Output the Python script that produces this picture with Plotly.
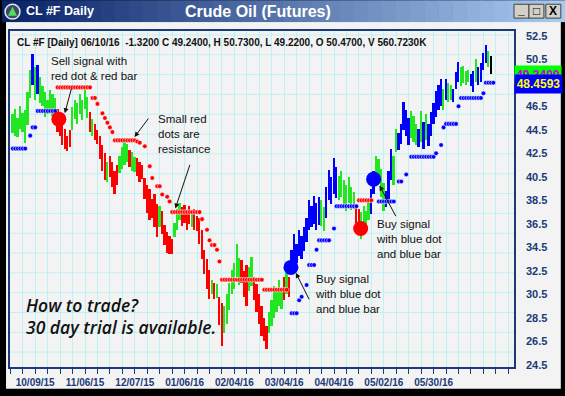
import plotly.graph_objects as go

# ---------------- data ----------------
bar_x = list(range(1, 194))
highs = [
    45.8, 46.3, 45.5, 46.5, 45.9, 46.2, 47.7, 49.6, 50.9, 49.8,
    50.0, 49.0, 48.2, 47.7, 47.0, 47.9, 47.5, 47.2, 46.3, 45.8,
    45.2, 44.6, 44.0, 44.5, 46.4, 47.0, 46.8, 47.5, 47.0, 48.2,
    47.3, 46.0, 45.4, 45.0, 44.5, 44.0, 43.2, 42.5, 41.8, 42.3,
    41.8, 41.0, 41.5, 42.3, 43.0, 43.5, 43.3, 42.8, 42.6, 42.2,
    42.1, 41.8, 41.5, 40.4, 39.8, 39.5, 38.6, 39.0, 38.2, 38.0,
    37.6, 36.4, 35.8, 35.5, 35.2, 36.6, 37.8, 38.3, 37.9, 38.1,
    37.7, 38.0, 37.6, 37.8, 37.2, 37.0, 36.0, 34.3, 33.5, 32.6,
    31.7, 31.5, 31.4, 30.3, 29.8, 29.5, 30.5, 31.5, 32.6, 33.2,
    34.8, 33.6, 33.4, 32.5, 33.0, 32.8, 33.7, 32.0, 31.4, 30.5,
    29.5, 28.5, 27.8, 29.0, 30.0, 31.2, 30.8, 31.7, 31.0, 32.0,
    32.3, 32.0, 34.3, 35.6, 34.8, 36.0, 35.5, 36.2, 37.0, 38.5,
    38.0, 38.9, 38.3, 38.8, 38.5, 37.9, 39.6, 41.1, 40.5, 42.1,
    41.3, 40.6, 41.0, 40.2, 39.8, 40.5, 39.6, 39.2, 38.1, 37.8,
    37.5, 38.0, 37.6, 38.6, 39.5, 41.0, 42.3, 42.0, 41.2, 40.0,
    39.3, 41.0, 42.9, 42.3, 44.6, 44.2, 45.0, 46.9, 46.2, 45.5,
    46.1, 45.7, 45.0, 44.6, 46.1, 45.2, 45.8, 45.0, 46.0, 46.8,
    47.8, 48.3, 48.8, 48.0, 48.8, 48.5, 48.3, 48.0, 49.4, 50.3,
    49.8, 49.9, 49.5, 49.6, 49.2, 49.5, 50.5, 49.8, 50.2, 51.0,
    51.7, 51.2, 50.73,
]
lows = [
    44.2, 44.0, 43.9, 44.6, 44.3, 43.4, 44.9, 47.2, 48.3, 47.0,
    47.5, 46.8, 46.5, 45.6, 45.8, 46.2, 45.7, 45.3, 44.3, 44.0,
    43.2, 42.9, 42.7, 43.0, 44.5, 45.4, 45.0, 45.8, 45.3, 46.3,
    45.5, 44.3, 44.0, 43.6, 43.3, 42.0, 41.0, 40.2, 40.1, 40.5,
    39.6, 39.0, 39.8, 40.8, 41.2, 41.5, 41.8, 41.3, 41.0, 40.9,
    40.6, 40.1, 40.3, 38.6, 37.4, 36.8, 37.0, 36.2, 35.4, 36.2,
    35.6, 34.7, 34.0, 33.9, 33.9, 35.4, 36.0, 36.8, 36.3, 36.6,
    36.0, 36.5, 36.2, 36.0, 35.9, 34.8, 33.5, 32.2, 31.0, 30.1,
    30.5, 30.1, 30.2, 27.9, 26.1, 27.2, 28.0, 29.2, 30.5, 31.0,
    32.0, 31.3, 31.5, 30.3, 29.5, 30.8, 31.2, 30.0, 29.0, 28.0,
    27.0, 26.5, 25.9, 27.2, 27.8, 28.5, 29.0, 29.5, 29.3, 30.0,
    30.5, 30.3, 32.3, 33.0, 33.2, 33.8, 33.5, 34.2, 35.0, 36.0,
    36.2, 36.5, 36.0, 36.4, 36.3, 35.9, 37.0, 38.5, 38.2, 39.0,
    38.7, 38.5, 38.8, 37.9, 37.6, 38.3, 37.7, 37.8, 36.6, 35.8,
    35.2, 36.4, 36.0, 36.8, 37.3, 39.0, 40.2, 40.0, 38.8, 37.6,
    37.9, 38.5, 40.2, 39.8, 42.6, 42.8, 43.3, 44.5, 44.0, 43.2,
    43.8, 43.5, 43.2, 43.0, 43.5, 42.9, 43.6, 43.1, 44.0, 45.0,
    45.6, 46.2, 46.5, 46.2, 47.0, 46.9, 47.0, 46.9, 48.0, 48.6,
    48.2, 48.5, 48.3, 48.6, 48.2, 47.7, 48.6, 48.3, 48.6, 49.6,
    50.2, 49.8, 49.22,
]
bar_colors = list(
    "GGGGGGGGBGBGGGGGGGRRRRRRGGGGGGGRGRRRRRGRRRRGGGGRGGRRRRRRRRRG"
    "RRRRRGGGRRRRGRRRRRRRGRGRRGGGGGGGRRRGGRRRRRRGGGGGGRGRBBBBBBBB"
    "BBBBGGBBBBBGGGGGGGRRGGGGBBGGGGBBBGGBBBBBGGGBGBGBBBBBBGBGGBBBG"
    "GGGBBGBBBBG"
)

blue_dot_x = [1, 2, 3, 4, 5, 6, 8, 9, 10, 11, 12, 13, 14, 15, 16, 17, 18,
              113, 114, 115, 116, 117, 119, 120, 121, 122, 123,
              124, 125, 126, 127, 128, 130,
              131, 132, 133, 134, 135, 136, 137, 138, 139,
              148, 149, 150, 151, 152, 153, 154, 156, 157, 159,
              161, 162, 163, 164, 165, 166, 167, 168, 169, 170, 171, 173, 174,
              175, 176, 177, 178, 179, 180,
              181, 182, 183, 184, 185, 186, 187, 188, 189, 190,
              191, 192, 193, 194]
blue_dot_y = [42.9, 42.9, 42.9, 42.9, 42.9, 42.9, 44.0, 44.7, 44.7,
              46.1, 46.1, 46.1, 46.1, 46.1, 46.1, 46.1, 46.1,
              28.9, 28.9, 28.9, 30.0, 30.3, 31.3, 33.0, 33.0, 33.0, 34.3,
              35.1, 35.1, 35.1, 35.1, 35.1, 36.1,
              38.0, 38.0, 38.0, 38.0, 38.0, 38.0, 38.0, 38.0, 38.0,
              38.4, 38.4, 38.4, 38.4, 38.4, 38.4, 38.4, 40.1, 40.1, 40.7,
              42.2, 42.2, 42.2, 42.2, 42.2, 42.2, 42.2, 42.2, 42.2, 42.2,
              42.5, 43.2, 44.7,
              45.0, 45.0, 45.0, 45.0, 45.0, 46.5,
              47.2, 47.2, 47.2, 47.2, 47.2, 47.2, 47.2, 47.2, 47.2, 47.6,
              48.5, 48.5, 48.5, 48.5]

red_dot_x = [19, 20, 21, 22, 23, 24, 25, 26, 27, 28, 29, 30, 31, 32,
             33, 34, 35, 37, 38, 39, 40, 41,
             42, 43, 44, 45, 46, 47, 48, 49, 50,
             51, 52, 54, 56, 57, 59, 60, 61, 63, 64,
             65, 66, 67, 68, 69, 70, 71, 72, 73, 74, 75, 76,
             77, 79, 80, 81, 82, 83, 84,
             85, 86, 87, 88, 89, 90, 91, 92, 93, 94, 95, 96, 97, 98, 99, 100, 101,
             102, 103, 104, 105, 106, 107, 108, 109, 110, 111,
             140, 141, 142, 143, 144, 145]
red_dot_y = [48.1, 48.1, 48.1, 48.1, 48.1, 48.1, 48.1, 48.1, 48.1, 48.1, 48.1, 48.1, 48.1, 48.1,
             47.2, 47.2, 46.7, 45.9, 45.5, 45.1, 44.7, 44.3,
             43.6, 43.6, 43.6, 43.6, 43.6, 43.6, 43.6, 43.6, 43.6,
             43.5, 43.4, 43.1, 41.4, 40.4, 39.7, 39.7, 39.0, 38.8, 38.4,
             37.5, 37.5, 37.5, 37.5, 37.5, 37.5, 37.5, 37.5, 37.5, 37.5, 37.5, 37.5,
             36.9, 36.0, 35.1, 34.7, 34.7, 34.3, 33.3,
             31.75, 31.75, 31.75, 31.75, 31.75, 31.75, 31.75, 31.75, 31.75, 31.75,
             31.75, 31.75, 31.75, 31.75, 31.75, 31.75, 31.75,
             30.9, 30.9, 30.9, 30.9, 30.9, 30.9, 30.9, 30.9, 30.9, 30.9,
             38.5, 38.5, 38.5, 38.5, 38.5, 38.5]

sell_x = [19.5, 140.7]
sell_y = [45.4, 36.1]
buy_x = [112.7, 145.9]
buy_y = [32.8, 40.3]

date_ticks = [10, 30, 50, 70, 90, 110, 130, 150, 170]
date_labels = ["10/09/15", "11/06/15", "12/07/15", "01/06/16", "02/04/16",
               "03/04/16", "04/04/16", "05/02/16", "05/30/16"]
price_ticks = [24.5, 26.5, 28.5, 30.5, 32.5, 34.5, 36.5, 38.5, 40.5,
               42.5, 44.5, 46.5, 48.5, 50.5, 52.5]

# ---------------- layout helpers ----------------
W, H = 565, 396
L, R, T, B = 8, 514, 31, 370
NAVY = "#1c3a78"
GRID = "#bdf2f2"
FONT = "Arial, Liberation Sans, sans-serif"


def px(xp):
    return (xp - L) / (R - L)


def py(yp):
    return (B - yp) / (B - T)


cmap = {"G": "#22e622", "R": "#ff0000", "B": "#0000ff"}

fig = go.Figure()
fig.add_trace(go.Bar(
    x=bar_x, y=[h - l for h, l in zip(highs, lows)], base=lows,
    width=0.72, marker=dict(color=[cmap[c] for c in bar_colors], line=dict(width=0)),
    hoverinfo="skip"))
dot_line = dict(width=0.6, color="rgba(255,255,255,0.9)")
fig.add_trace(go.Scatter(x=red_dot_x, y=red_dot_y, mode="markers",
                         marker=dict(size=4.6, color="#ff0000", line=dot_line), hoverinfo="skip"))
fig.add_trace(go.Scatter(x=blue_dot_x, y=blue_dot_y, mode="markers",
                         marker=dict(size=4.6, color="#0000ff", line=dot_line), hoverinfo="skip"))
fig.add_trace(go.Scatter(x=sell_x, y=sell_y, mode="markers",
                         marker=dict(size=15, color="#ff0000"), hoverinfo="skip"))
fig.add_trace(go.Scatter(x=buy_x, y=buy_y, mode="markers",
                         marker=dict(size=15, color="#0000ff"), hoverinfo="skip"))

tickvals = list(range(0, 205, 5))
ticktext = [date_labels[date_ticks.index(v)] if v in date_ticks else "" for v in tickvals]

shapes = []
# window panel (below everything)
shapes.append(dict(type="rect", xref="paper", yref="paper", x0=px(4), x1=px(561),
                   y0=py(392), y1=py(22), fillcolor="#f3f3f3", line=dict(width=0), layer="below"))
# title bar gradient
n = 40
c0, c1 = (10, 36, 106), (166, 202, 240)
for i in range(n):
    t = i / (n - 1)
    col = "rgb(%d,%d,%d)" % tuple(int(a + (b - a) * t) for a, b in zip(c0, c1))
    shapes.append(dict(type="rect", xref="paper", yref="paper",
                       x0=px(W * i / n), x1=px(W * (i + 1) / n + 0.6),
                       y0=py(22), y1=py(0), fillcolor=col, line=dict(width=0), layer="below"))
# horizontal grid lines
for k in range(17):
    yy = 35 + 20 * k
    shapes.append(dict(type="line", xref="x domain", yref="paper", x0=0, x1=1,
                       y0=py(yy), y1=py(yy), line=dict(color=GRID, width=1), layer="below"))
# window buttons
for x0b, x1b in [(514, 529), (529, 544), (546, 561)]:
    shapes.append(dict(type="rect", xref="paper", yref="paper", x0=px(x0b), x1=px(x1b),
                       y0=py(18), y1=py(4), fillcolor="#d4d0c8",
                       line=dict(color="#404040", width=1)))
# icon
shapes.append(dict(type="circle", xref="paper", yref="paper", x0=px(3), x1=px(18),
                   y0=py(19), y1=py(4), fillcolor="#3a4a6a", line=dict(color="#e8e8e8", width=1.5)))
shapes.append(dict(type="path", xref="paper", yref="paper",
                   path="M %f %f L %f %f L %f %f Z" % (px(10.5), py(6.5), px(6), py(15.5), px(15), py(15.5)),
                   fillcolor="#55dd55", line=dict(width=0)))

ann = []


def text(xp, yp, s, size, color="#111111", weight="normal", style="normal",
         family=FONT, xanchor="left", **kw):
    ann.append(dict(xref="paper", yref="paper", x=px(xp), y=py(yp), text=s, showarrow=False,
                    xanchor=xanchor, yanchor="middle", align="left",
                    font=dict(family=family, size=size, color=color, weight=weight, style=style), **kw))


def arrow(hx, hy, tx, ty):
    ann.append(dict(xref="paper", yref="paper", x=px(hx), y=py(hy), ax=tx - hx, ay=ty - hy,
                    axref="pixel", ayref="pixel", text="", showarrow=True, arrowhead=2,
                    arrowsize=1, arrowwidth=1, arrowcolor="#111111", standoff=0))


# title bar texts
text(22, 11, "CL #F Daily", 12.5, color="white", weight="bold")
text(257, 11, "Crude Oil (Futures)", 16, color="white", weight="bold", xanchor="center")
text(521.5, 10, "_", 12, color="black", weight="bold", xanchor="center")
text(536.5, 11, "□", 12, color="black", weight="bold", xanchor="center")
text(553.5, 11, "X", 12, color="black", weight="bold", xanchor="center")

# header
text(13, 43, "CL #F [Daily] 06/10/16  -1.3200 C 49.2400, H 50.7300, L 49.2200, "
             "O 50.4700, V 560.7230K", 10, weight="bold")

# callouts
text(47, 69, "Sell signal with<br>red dot &amp; red bar", 11.5)
arrow(63, 114, 70, 88)
text(155, 135, "Small red<br>dots are<br>resistance", 11.5)
arrow(133, 138, 148, 118)
arrow(174, 210, 189, 165)
text(312, 296, "Buy signal<br>with blue dot<br>and blue bar", 11.5)
arrow(295, 275, 309, 303)
text(373, 241, "Buy signal<br>with blue dot<br>and blue bar", 11.5)
arrow(379, 187, 396, 219)

text(22, 307, "How to trade?", 17.5, weight=600, style="italic", family="Open Sans")
text(22, 330, "30 day trial is available.", 17.5, weight=600, style="italic", family="Open Sans")

# value boxes
ann.append(dict(xref="paper", yref="paper", x=px(538), y=py(75), text="49.2400", showarrow=False,
                xanchor="center", yanchor="middle", width=46, height=18, borderpad=0,
                bgcolor="#00ff00", font=dict(family=FONT, size=12, color="#cc00cc", weight="bold")))
ann.append(dict(xref="paper", yref="paper", x=px(538.5), y=py(84), text="48.4593", showarrow=False,
                xanchor="center", yanchor="middle", width=47, height=18, borderpad=0,
                bgcolor="#0000ff", font=dict(family=FONT, size=12, color="#ffff00", weight="bold")))

fig.update_layout(
    width=W, height=H,
    margin=dict(l=L, r=W - R, t=T, b=H - B, pad=0),
    paper_bgcolor="black", plot_bgcolor="white",
    showlegend=False, hovermode=False, bargap=0,
    shapes=shapes, annotations=ann,
    xaxis=dict(range=[(L - 8.3) / 2.5, (R - 8.3) / 2.5], tickmode="array",
               tickvals=tickvals, ticktext=ticktext, ticks="outside", ticklen=5,
               tickcolor=NAVY, tickwidth=1, showgrid=True, gridcolor=GRID, gridwidth=1,
               showline=True, linecolor=NAVY, linewidth=1.5, mirror=True, zeroline=False,
               tickfont=dict(family=FONT, size=10, color=NAVY, weight="bold"),
               fixedrange=True),
    yaxis=dict(range=[24.5 - 2 / 11.87, 52.5 + 4.7 / 11.87], side="right", tickmode="array",
               tickvals=price_ticks, ticktext=["%.1f" % v for v in price_ticks],
               ticks="", showgrid=False, showline=True, linecolor=NAVY, linewidth=1.5,
               mirror=True, zeroline=False, ticklabelstandoff=8,
               tickfont=dict(family=FONT, size=11, color=NAVY, weight="bold"),
               fixedrange=True),
)

fig.write_html("out.html", config=dict(displayModeBar=False),
               post_script="document.body.style.margin='0';document.body.style.padding='0';"
                           "document.body.style.overflow='hidden';")
